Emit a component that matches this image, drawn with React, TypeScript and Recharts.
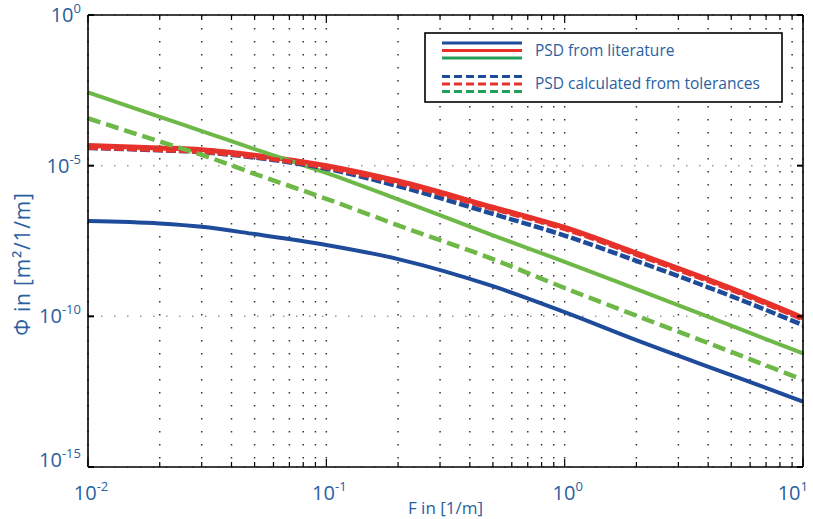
import React from "react";
import { LineChart, Line, XAxis, YAxis, CartesianGrid } from "recharts";

// spatial frequency F in 1/m
const freq = [0.01, 0.02, 0.03, 0.05, 0.1, 0.2, 0.5, 1, 2, 5, 10];

// PSD from literature
const litBlue = [1.45e-7, 1.2e-7, 9.33e-8, 5.37e-8, 2.34e-8, 7.94e-9, 1.0e-9, 1.38e-10, 1.62e-11, 1.12e-12, 1.48e-13];
const litRed = [4.68e-5, 3.89e-5, 3.39e-5, 2.24e-5, 1.0e-5, 3.09e-6, 4.17e-7, 8.91e-8, 1.26e-8, 8.51e-10, 8.91e-11];
const litGreen = [2.69e-3, 4.17e-4, 1.41e-4, 3.55e-5, 5.75e-6, 7.59e-7, 4.9e-8, 6.46e-9, 7.94e-10, 4.9e-11, 5.89e-12];

// PSD calculated from tolerances
const tolBlue = [3.89e-5, 3.24e-5, 2.82e-5, 1.86e-5, 7.94e-6, 2.09e-6, 2.51e-7, 4.79e-8, 6.92e-9, 4.68e-10, 5.13e-11];
const tolRed = [3.98e-5, 3.31e-5, 2.88e-5, 1.95e-5, 8.71e-6, 2.69e-6, 3.72e-7, 7.94e-8, 1.12e-8, 7.59e-10, 7.94e-11];
const tolGreen = [3.72e-4, 6.31e-5, 2.29e-5, 5.37e-6, 7.94e-7, 1.05e-7, 7.94e-9, 8.71e-10, 1.05e-10, 6.61e-12, 7.76e-13];

const xTicks = [
  0.01, 0.02, 0.03, 0.04, 0.05, 0.06, 0.07, 0.08, 0.09,
  0.1, 0.2, 0.3, 0.4, 0.5, 0.6, 0.7, 0.8, 0.9,
  1, 2, 3, 4, 5, 6, 7, 8, 9, 10,
];
const yTicks = [1e-15, 1e-10, 1e-5, 1];

const legendLabels = ["PSD from literature", "PSD calculated from tolerances"];

const data = freq.map((f, i) => ({
  f,
  litBlue: litBlue[i],
  litRed: litRed[i],
  litGreen: litGreen[i],
  tolBlue: tolBlue[i],
  tolRed: tolRed[i],
  tolGreen: tolGreen[i],
}));

const BLUE = "#1f4b9b";
const RED = "#e6322a";
const GREEN = "#6db846";
const TEXT = "#2a5f9f";
const FONT = "'Open Sans', 'Liberation Sans', sans-serif";

const exponent = (v: number) => Math.round(Math.log10(v));
const isDecade = (v: number) => Math.abs(Math.log10(v) - exponent(v)) < 1e-6;

function Pow({ x, y, v, anchor }: { x: number; y: number; v: number; anchor: "middle" | "end" }) {
  return (
    <text x={x} y={y} textAnchor={anchor} fill={TEXT} fontFamily={FONT} fontSize={20}>
      10
      <tspan dy={-9} fontSize={13}>
        {exponent(v)}
      </tspan>
    </text>
  );
}

function BottomTick(props: any) {
  const { x, y, payload } = props;
  const major = isDecade(payload.value);
  const last = payload.value === xTicks[xTicks.length - 1];
  return (
    <g>
      <line x1={x} x2={x} y1={y} y2={y - (major ? 8 : 5)} stroke="#000" strokeWidth={1.2} />
      {major && (
        <Pow x={last ? x + 5 : x + 3} y={y + 33} v={payload.value} anchor={last ? "end" : "middle"} />
      )}
    </g>
  );
}

function TopTick(props: any) {
  const { x, y, payload } = props;
  const major = isDecade(payload.value);
  return <line x1={x} x2={x} y1={y} y2={y + (major ? 8 : 5)} stroke="#000" strokeWidth={1.2} />;
}

function LeftTick(props: any) {
  const { x, y, payload } = props;
  const bottom = payload.value === yTicks[0];
  return (
    <g>
      <line x1={x} x2={x + 6} y1={y} y2={y} stroke="#000" strokeWidth={2} />
      <Pow x={x - 7} y={y + (bottom ? 0 : 7)} v={payload.value} anchor="end" />
    </g>
  );
}

function RightTick(props: any) {
  const { x, y } = props;
  return <line x1={x} x2={x - 6} y1={y} y2={y} stroke="#000" strokeWidth={2} />;
}

function YLabel() {
  return (
    <text
      transform="translate(30,264) rotate(-90)"
      textAnchor="middle"
      fill={TEXT}
      fontFamily={FONT}
      fontSize={21}
      letterSpacing={0.8}
    >
      Φ in [m²/1/m]
    </text>
  );
}

function LegendBox() {
  const rows = [
    { label: legendLabels[0], dash: undefined, ys: [11, 18.5, 26], ty: 24 },
    { label: legendLabels[1], dash: "8 4", ys: [44.5, 52, 59.5], ty: 57 },
  ];
  const colors = [BLUE, RED, "#22a05a"];
  return (
    <svg width={360} height={72} style={{ position: "absolute", left: 424, top: 32 }}>
      <rect x={1} y={1} width={357} height={69} fill="#fff" stroke="#000" strokeWidth={1.6} />
      {rows.map((r) => (
        <g key={r.label}>
          {r.ys.map((yy, k) => (
            <line
              key={k}
              x1={18}
              x2={98}
              y1={yy}
              y2={yy}
              stroke={colors[k]}
              strokeWidth={3}
              strokeDasharray={r.dash}
            />
          ))}
          <text x={111} y={r.ty} fill={TEXT} fontFamily={FONT} fontSize={15.5}>
            {r.label}
          </text>
        </g>
      ))}
    </svg>
  );
}

export default function App() {
  return (
    <div style={{ position: "absolute", left: 0, top: 0, width: 813, height: 519, background: "#fff" }}>
      <LineChart width={813} height={519} data={data} margin={{ top: 0, right: 0, bottom: 0, left: 0 }}>
        <CartesianGrid horizontal={false} stroke="#333" strokeWidth={1.5} strokeDasharray="1.5 11.5" />
        <CartesianGrid vertical={false} stroke="#999" strokeWidth={1.5} strokeDasharray="1.5 11.5" />
        <XAxis
          dataKey="f"
          type="number"
          scale="log"
          domain={[0.01, 10]}
          allowDataOverflow
          ticks={xTicks}
          interval={0}
          height={52}
          tickSize={0}
          tickMargin={0}
          tickLine={false}
          tick={<BottomTick />}
          axisLine={{ stroke: "#000", strokeWidth: 1.6 }}
          label={{ value: "F in [1/m]", position: "insideBottom", offset: 5, fill: TEXT, fontSize: 17, fontFamily: FONT }}
        />
        <XAxis
          xAxisId="top"
          orientation="top"
          dataKey="f"
          type="number"
          scale="log"
          domain={[0.01, 10]}
          allowDataOverflow
          ticks={xTicks}
          interval={0}
          height={15}
          tickSize={0}
          tickMargin={0}
          tickLine={false}
          tick={<TopTick />}
          axisLine={{ stroke: "#000", strokeWidth: 1.6 }}
        />
        <YAxis
          type="number"
          scale="log"
          domain={[1e-15, 1]}
          allowDataOverflow
          ticks={yTicks}
          interval={0}
          width={88}
          tickSize={0}
          tickMargin={0}
          tickLine={false}
          tick={<LeftTick />}
          axisLine={{ stroke: "#000", strokeWidth: 1.6 }}
          label={{ content: () => <YLabel /> }}
        />
        <YAxis
          yAxisId="right"
          orientation="right"
          type="number"
          scale="log"
          domain={[1e-15, 1]}
          allowDataOverflow
          ticks={yTicks}
          interval={0}
          width={10}
          tickSize={0}
          tickMargin={0}
          tickLine={false}
          tick={<RightTick />}
          axisLine={{ stroke: "#000", strokeWidth: 1.6 }}
        />
        <Line type="monotone" dataKey="litBlue" stroke={BLUE} strokeWidth={4} dot={false} isAnimationActive={false} />
        <Line type="monotone" dataKey="litRed" stroke={RED} strokeWidth={5} dot={false} isAnimationActive={false} />
        <Line type="monotone" dataKey="litGreen" stroke={GREEN} strokeWidth={4} dot={false} isAnimationActive={false} />
        <Line type="monotone" dataKey="tolBlue" stroke={BLUE} strokeWidth={4.5} strokeDasharray="10 3" dot={false} isAnimationActive={false} />
        <Line type="monotone" dataKey="tolRed" stroke={RED} strokeWidth={4.5} strokeDasharray="10 3" dot={false} isAnimationActive={false} />
        <Line type="monotone" dataKey="tolGreen" stroke={GREEN} strokeWidth={4.5} strokeDasharray="13 6" dot={false} isAnimationActive={false} />
      </LineChart>
      <LegendBox />
    </div>
  );
}
